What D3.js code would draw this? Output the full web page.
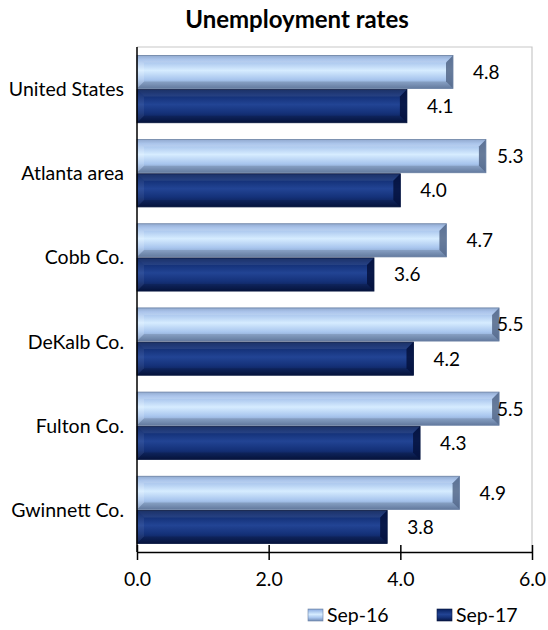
<!DOCTYPE html>
<html><head><meta charset="utf-8">
<script src="https://cdn.jsdelivr.net/npm/d3@7"></script>
<style>body{margin:0;background:#fff}svg{display:block}text{font-family:Lato,"Liberation Sans",sans-serif;fill:#000}</style>
</head><body><svg id="c" width="548" height="630"></svg>
<script>
const categories = ["United States","Atlanta area","Cobb Co.","DeKalb Co.","Fulton Co.","Gwinnett Co."];
const seriesNames = ["Sep-16","Sep-17"];
const sep16 = [4.8,5.3,4.7,5.5,5.5,4.9];
const sep17 = [4.1,4.0,3.6,4.2,4.3,3.8];
const xTicks = [0,2,4,6];
const title = "Unemployment rates";

const svg = d3.select("#c");
const m = {l:137, r:532, t:47, b:552};
const x = d3.scaleLinear().domain([0,6]).range([m.l, m.r]);
const y = d3.scaleBand().domain(categories).range([m.t, m.b]).paddingInner(0.2).paddingOuter(0.1);
const ys = d3.scaleBand().domain([0,1]).range([0, y.bandwidth()]).paddingInner(0.03);

const defs = svg.append("defs");
function grad(id, stops){
  const g = defs.append("linearGradient").attr("id",id).attr("x1",0).attr("y1",0).attr("x2",0).attr("y2",1);
  stops.forEach(s=>g.append("stop").attr("offset",s[0]).attr("stop-color",s[1]));
}
grad("gL", [[0,"#7f9cc8"],[0.12,"#9dbbe8"],[0.45,"#d6ecff"],[0.72,"#a9c6ee"],[1,"#718bb4"]]);
grad("gD", [[0,"#08205a"],[0.15,"#112d72"],[0.45,"#224494"],[0.7,"#15327a"],[1,"#071644"]]);
const styles = [{fill:"url(#gL)", stroke:"#6a80a4", endc:"#536788"},{fill:"url(#gD)", stroke:"#081740", endc:"#05123d"}];

svg.append("path").attr("d",`M${m.l},${m.t}H${m.r}V${m.b}`).attr("fill","none").attr("stroke","#c8c8c8").attr("stroke-width",1.2);

const data = categories.map((c,i)=>({c, v:[sep16[i], sep17[i]]}));
const bev = 7;
data.forEach(d=>{
  d.v.forEach((v,k)=>{
    const x0 = x(0), x1 = x(v), y0 = y(d.c)+ys(k), h = ys.bandwidth(), y1 = y0+h;
    const st = styles[k];
    const g = svg.append("g");
    g.append("rect").attr("x",x0).attr("y",y0).attr("width",x1-x0).attr("height",h).attr("fill",st.fill);
    g.append("polygon").attr("points",`${x0},${y0} ${x1},${y0} ${x1-bev},${y0+bev} ${x0+bev},${y0+bev}`).attr("fill","#fff").attr("opacity",k?0.08:0.15);
    g.append("polygon").attr("points",`${x0},${y1} ${x1},${y1} ${x1-bev},${y1-bev} ${x0+bev},${y1-bev}`).attr("fill","#000").attr("opacity",0.12);
    g.append("polygon").attr("points",`${x0},${y0} ${x0+bev},${y0+bev} ${x0+bev},${y1-bev} ${x0},${y1}`).attr("fill","#fff").attr("opacity",k?0.06:0.15);
    g.append("polygon").attr("points",`${x1},${y0} ${x1},${y1} ${x1-bev},${y1-bev} ${x1-bev},${y0+bev}`).attr("fill",st.endc).attr("opacity",0.85);
    g.append("rect").attr("x",x0).attr("y",y0).attr("width",x1-x0).attr("height",h).attr("fill","none").attr("stroke",st.stroke).attr("stroke-width",0.8);
    const lx = Math.min(x1+20, 497);
    svg.append("text").attr("x",lx).attr("y",y0+h/2).attr("dy","0.36em").attr("font-size",19).text(v.toFixed(1));
  });
});

categories.forEach(c=>{
  svg.append("text").attr("x",124).attr("y",y(c)+y.bandwidth()/2).attr("dy","0.36em").attr("text-anchor","end").attr("font-size",19.5).text(c);
});

svg.append("line").attr("x1",m.l).attr("x2",m.l).attr("y1",m.t).attr("y2",m.b).attr("stroke","#000").attr("stroke-width",1.5);
const ax = svg.append("g").attr("transform",`translate(0,${m.b})`)
  .call(d3.axisBottom(x).tickValues(xTicks).tickFormat(d3.format(".1f")).tickSize(8).tickSizeOuter(0));
ax.select(".domain").attr("stroke","#000").attr("stroke-width",1.5);
ax.selectAll(".tick line").attr("stroke","#000").attr("stroke-width",1.5).attr("y1",-7).attr("y2",8);
ax.selectAll(".tick text").attr("y",27).attr("dy","0.36em").attr("font-size",19.5).attr("font-family","Lato,sans-serif").attr("fill","#000");

svg.append("text").attr("x",297).attr("y",28).attr("text-anchor","middle").attr("font-size",24).attr("font-weight","bold").text(title);

const leg = [{x:308, name:seriesNames[0], f:"url(#gL)", s:"#6a80a4"},{x:437, name:seriesNames[1], f:"url(#gD)", s:"#081740"}];
leg.forEach(l=>{
  svg.append("rect").attr("x",l.x).attr("y",609).attr("width",15).attr("height",12).attr("fill",l.f).attr("stroke",l.s).attr("stroke-width",0.6);
  svg.append("text").attr("x",l.x+19).attr("y",615).attr("dy","0.36em").attr("font-size",19.5).text(l.name);
});
</script></body></html>
